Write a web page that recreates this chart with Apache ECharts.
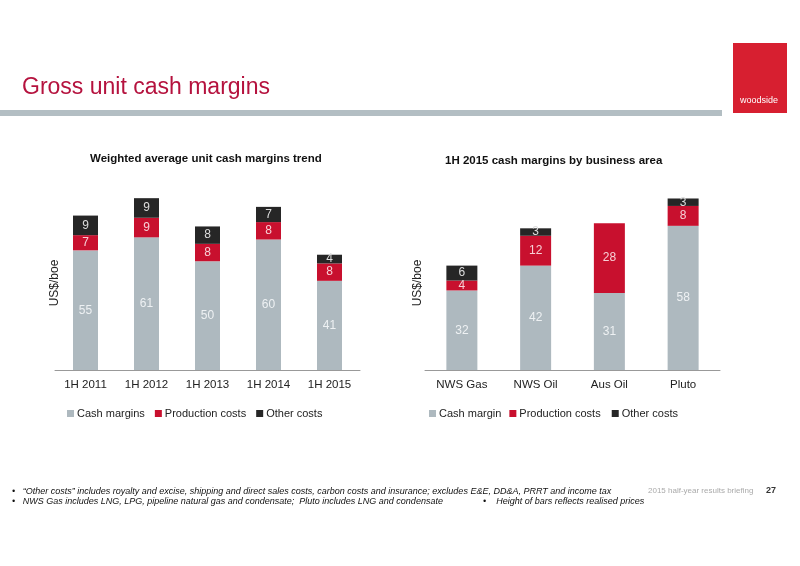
<!DOCTYPE html>
<html><head><meta charset="utf-8">
<script src="https://cdn.jsdelivr.net/npm/echarts@6/dist/echarts.min.js"></script>
<style>html,body{margin:0;padding:0;background:#fff}#c{width:800px;height:566px}</style>
</head><body><div id="c"></div>
<script>
var periods = ['1H 2011', '1H 2012', '1H 2013', '1H 2014', '1H 2015'];
var trendCash = [55, 61, 50, 60, 41];
var trendProd = [7, 9, 8, 8, 8];
var trendOther = [9, 9, 8, 7, 4];

var areas = ['NWS Gas', 'NWS Oil', 'Aus Oil', 'Pluto'];
var areaCash = [32, 42, 31, 58];
var areaProd = [4, 12, 28, 8];
var areaOther = [6, 3, 0, 3];

var GREY = '#aeb9bf', RED = '#c8102e', DARK = '#262626';
var font = 'Liberation Sans, Arial, sans-serif';

function bar(name, data, color, xi, lblColor) {
  return {
    name: name, type: 'bar', stack: 's' + xi, xAxisIndex: xi, yAxisIndex: xi,
    data: data, barWidth: xi === 0 ? 25 : 31,
    itemStyle: { color: color },
    label: { show: true, position: 'inside', color: lblColor, fontSize: 12, fontFamily: font,
      formatter: function (p) { return p.value ? p.value : ''; } }
  };
}

var chart = echarts.init(document.getElementById('c'));
chart.setOption({
  animation: false,
  textStyle: { fontFamily: font },
  title: [
    { text: 'Weighted average unit cash margins trend', left: 85, top: 148, textStyle: { fontSize: 11.5, fontWeight: 'bold', color: '#111' } },
    { text: '1H 2015 cash margins by business area', left: 440, top: 150, textStyle: { fontSize: 11.5, fontWeight: 'bold', color: '#111' } }
  ],
  legend: [
    { data: ['Cash margins', 'Production costs', 'Other costs'], left: 62, top: 403, itemWidth: 7, itemHeight: 7, itemGap: 10, icon: 'rect',
      textStyle: { fontSize: 11, color: '#222', padding: [0, 0, 0, -2] } },
    { data: ['Cash margin', 'Production costs ', 'Other costs '], left: 424, top: 403, itemWidth: 7, itemHeight: 7, itemGap: 8, icon: 'rect',
      textStyle: { fontSize: 11, color: '#222', padding: [0, 0, 0, -2] } }
  ],
  grid: [
    { left: 55, width: 305, top: 196, height: 174 },
    { left: 425, width: 295, top: 196, height: 174 }
  ],
  xAxis: [0, 1].map(function (i) {
    return { type: 'category', gridIndex: i, data: i === 0 ? periods : areas,
      axisLine: { lineStyle: { color: '#999' } }, axisTick: { show: false },
      axisLabel: { color: '#222', fontSize: 11.5, margin: 9 } };
  }),
  yAxis: [0, 1].map(function (i) {
    return { type: 'value', gridIndex: i, min: 0, max: i === 0 ? 80 : 70,
      name: 'US$/boe', nameLocation: 'middle', nameGap: i === 0 ? -6 : 1, nameRotate: 90,
      nameTextStyle: { fontSize: 12, color: '#222' },
      axisLine: { show: false }, axisTick: { show: false }, axisLabel: { show: false }, splitLine: { show: false } };
  }),
  series: [
    bar('Cash margins', trendCash, GREY, 0, '#eef1f3'),
    bar('Production costs', trendProd, RED, 0, '#f7d0d6'),
    bar('Other costs', trendOther, DARK, 0, '#ddd'),
    bar('Cash margin', areaCash, GREY, 1, '#eef1f3'),
    bar('Production costs ', areaProd, RED, 1, '#f7d0d6'),
    bar('Other costs ', areaOther, DARK, 1, '#ddd')
  ],
  graphic: [
    { type: 'text', left: 22, top: 76, style: { text: 'Gross unit cash margins', fill: '#b5123e', font: '23px ' + font } },
    { type: 'rect', shape: { x: 0, y: 110, width: 722, height: 6 }, style: { fill: '#b3bec3' } },
    { type: 'rect', shape: { x: 733, y: 43, width: 54, height: 70 }, style: { fill: '#d71f30' } },
    { type: 'text', left: 740, top: 96, style: { text: 'woodside', fill: '#fff', font: '9px ' + font } },
    { type: 'text', left: 12, top: 487, style: { text: '•   \u201cOther costs\u201d includes royalty and excise, shipping and direct sales costs, carbon costs and insurance; excludes E&E, DD&A, PRRT and income tax', fill: '#111', font: 'italic 9px ' + font } },
    { type: 'text', left: 12, top: 497, style: { text: '•   NWS Gas includes LNG, LPG, pipeline natural gas and condensate;  Pluto includes LNG and condensate', fill: '#111', font: 'italic 9px ' + font } },
    { type: 'text', left: 483, top: 497, style: { text: '•    Height of bars reflects realised prices', fill: '#111', font: 'italic 9px ' + font } },
    { type: 'text', left: 648, top: 487, style: { text: '2015 half-year results briefing', fill: '#aaa', font: '8px ' + font } },
    { type: 'text', left: 766, top: 486, style: { text: '27', fill: '#333', font: 'bold 9px ' + font } }
  ]
});
</script></body></html>
